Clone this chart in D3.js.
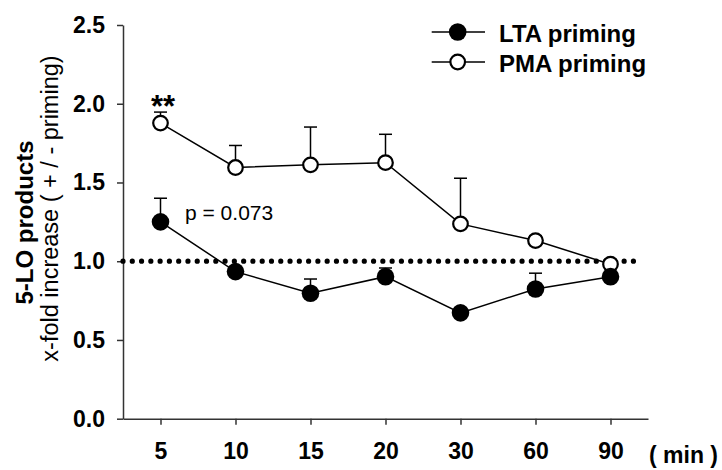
<!DOCTYPE html>
<html>
<head>
<meta charset="utf-8">
<script src="https://cdn.jsdelivr.net/npm/d3@7"></script>
<style>
  html, body { margin: 0; padding: 0; background: #fff; }
  svg { display: block; font-family: "Liberation Sans", Arial, sans-serif; }
</style>
</head>
<body>
<svg id="chart" width="722" height="470"></svg>
<script>
// Time points after stimulation (min)
const timePoints = ["5", "10", "15", "20", "30", "60", "90"];

// LTA priming: mean fold increase and SEM
const ltaMean = [1.25, 0.934, 0.797, 0.902, 0.672, 0.824, 0.902];
const ltaSem  = [0.15, 0.03, 0.09, 0.055, 0.03, 0.10, 0.03];

// PMA priming: mean fold increase and SEM
const pmaMean = [1.877, 1.595, 1.612, 1.626, 1.237, 1.131, 0.981];
const pmaSem  = [0.07, 0.14, 0.24, 0.18, 0.29, 0.03, 0.03];

const yTicks = [0, 0.5, 1.0, 1.5, 2.0, 2.5];
const baseline = 1.0;

const svg = d3.select("#chart");

const x = d3.scalePoint().domain(timePoints).range([123, 648]).padding(0.5);
const y = d3.scaleLinear().domain([0, 2.5]).range([418.7, 25]);

const axisColor = "#333";
const fontFamily = "Liberation Sans, Arial, sans-serif";

// Y axis
const yAxis = svg.append("g")
  .attr("transform", "translate(123,0)")
  .call(d3.axisLeft(y).tickValues(yTicks).tickFormat(d3.format(".1f"))
    .tickSizeInner(6).tickSizeOuter(0).tickPadding(12));
yAxis.select(".domain").attr("stroke", axisColor).attr("stroke-width", 1.5);
yAxis.selectAll(".tick line").attr("stroke", axisColor).attr("stroke-width", 1.5);
yAxis.selectAll(".tick text").attr("font-size", 23).attr("font-weight", "bold")
  .attr("fill", "#000").attr("font-family", fontFamily);

// X axis
const xAxis = svg.append("g")
  .attr("transform", `translate(0,${y(0)})`)
  .call(d3.axisBottom(x).tickSizeInner(6).tickSizeOuter(0).tickPadding(18));
xAxis.select(".domain").attr("stroke", axisColor).attr("stroke-width", 1.5);
xAxis.selectAll(".tick line").attr("stroke", axisColor).attr("stroke-width", 1.5);
xAxis.selectAll(".tick text").attr("font-size", 23).attr("font-weight", "bold")
  .attr("fill", "#000").attr("font-family", fontFamily);

// Unit label for x axis
svg.append("text")
  .attr("x", 649).attr("y", 463)
  .attr("font-size", 23).attr("font-weight", "bold")
  .text("( min )");

// Y axis title (two lines)
svg.append("text")
  .attr("transform", "translate(33,222.5) rotate(-90)")
  .attr("text-anchor", "middle")
  .attr("font-size", 24).attr("font-weight", "bold")
  .text("5-LO products");
svg.append("text")
  .attr("transform", "translate(58,208.5) rotate(-90)")
  .attr("text-anchor", "middle")
  .attr("font-size", 23.5)
  .text("x-fold increase ( + / - priming)");

// Reference line at 1.0
svg.append("line")
  .attr("x1", 123).attr("x2", 642.7)
  .attr("y1", y(baseline)).attr("y2", y(baseline))
  .attr("stroke", "#000").attr("stroke-width", 5.2)
  .attr("stroke-linecap", "round")
  .attr("stroke-dasharray", `0 ${519.7 / 56}`);

const line = d3.line().x((d, i) => x(timePoints[i])).y(d => y(d));

function drawSeries(mean, sem, filled) {
  const g = svg.append("g");
  // upper error bars
  g.selectAll("line.err").data(mean).join("line")
    .attr("x1", (d, i) => x(timePoints[i])).attr("x2", (d, i) => x(timePoints[i]))
    .attr("y1", d => y(d)).attr("y2", (d, i) => y(d + sem[i]))
    .attr("stroke", "#000").attr("stroke-width", 1.5);
  g.selectAll("line.cap").data(mean).join("line")
    .attr("x1", (d, i) => x(timePoints[i]) - 6.5).attr("x2", (d, i) => x(timePoints[i]) + 6.5)
    .attr("y1", (d, i) => y(d + sem[i])).attr("y2", (d, i) => y(d + sem[i]))
    .attr("stroke", "#000").attr("stroke-width", 1.5);
  g.append("path").datum(mean)
    .attr("d", line).attr("fill", "none")
    .attr("stroke", "#000").attr("stroke-width", 1.5);
  g.selectAll("circle").data(mean).join("circle")
    .attr("cx", (d, i) => x(timePoints[i])).attr("cy", d => y(d))
    .attr("r", filled ? 8.8 : 7.3)
    .attr("fill", filled ? "#000" : "#fff")
    .attr("stroke", "#000").attr("stroke-width", filled ? 0 : 2.2);
}

drawSeries(pmaMean, pmaSem, false);
drawSeries(ltaMean, ltaSem, true);

// Annotations
svg.append("text")
  .attr("x", 151).attr("y", 117)
  .attr("font-size", 31).attr("font-weight", "bold")
  .text("**");
svg.append("text")
  .attr("x", 185).attr("y", 220)
  .attr("font-size", 21)
  .text("p = 0.073");

// Legend
const legend = [
  { label: "LTA priming", filled: true, y: 32 },
  { label: "PMA priming", filled: false, y: 62 }
];
const lg = svg.append("g");
legend.forEach(item => {
  lg.append("line")
    .attr("x1", 431.7).attr("x2", 485)
    .attr("y1", item.y).attr("y2", item.y)
    .attr("stroke", "#000").attr("stroke-width", 1.5);
  lg.append("circle")
    .attr("cx", 457.7).attr("cy", item.y)
    .attr("r", item.filled ? 8.8 : 7.3)
    .attr("fill", item.filled ? "#000" : "#fff")
    .attr("stroke", "#000").attr("stroke-width", item.filled ? 0 : 2.2);
  lg.append("text")
    .attr("x", 499).attr("y", item.y + 9.8)
    .attr("font-size", 24).attr("font-weight", "bold")
    .text(item.label);
});
</script>
</body>
</html>
